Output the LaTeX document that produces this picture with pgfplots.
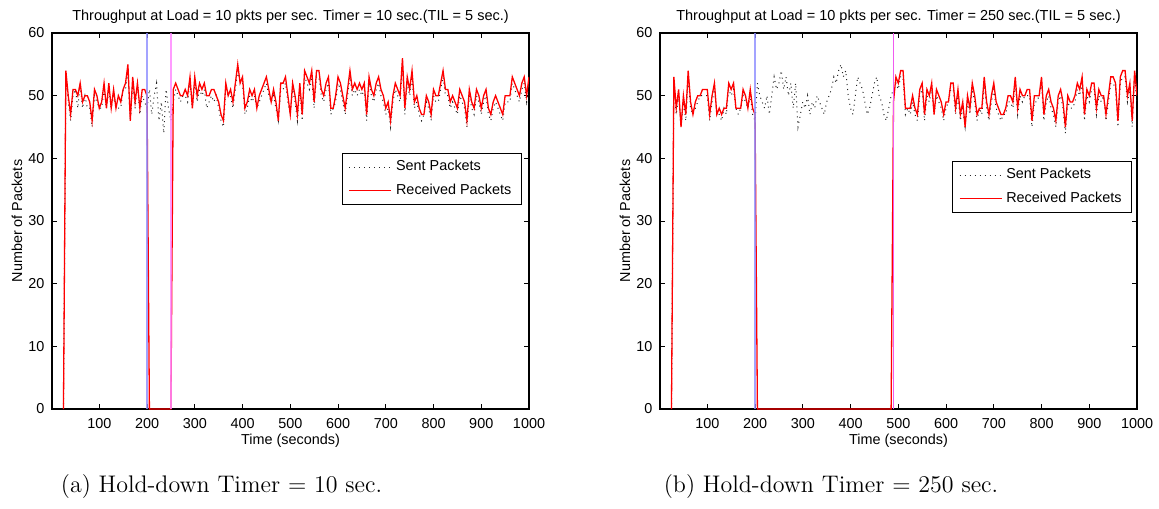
\documentclass[border=0pt]{standalone}
\usepackage{fontspec}
\usepackage{pgfplots}
\usepackage{pgfplotstable}
\pgfplotsset{compat=1.18}
\newfontfamily\plotfont{Liberation Sans}
\definecolor{vblue}{RGB}{140,140,255}
\definecolor{vmag}{RGB}{255,130,255}
\definecolor{vmagb}{RGB}{240,90,240}

\pgfplotstableread{
t r s
25 0 0
30 54 53
35 50 49
40 47 46
45 51 50
50 51 51
55 50 48
60 52 52
65 49 48
70 50 50
75 50 48
80 49 48
85 46 45
90 51 50
95 50 49
100 48 48
105 49 48
110 52 51
115 48 48
120 52 51
125 48 48
130 51 50
135 48 48
140 50 48
145 49 48
150 51 51
155 52 51
160 55 54
165 46 46
170 53 52
175 49 48
180 52 52
185 48 47
190 51 50
195 51 49
200 50 48
205 0 51
210 0 47
215 0 50
220 0 52
225 0 46
230 0 49
235 0 44
240 0 51
245 0 48
250 0 46
255 51 49
260 52 51
265 51 50
270 50 49
275 50 50
280 51 50
285 50 49
290 53 52
295 48 48
300 53 52
305 50 49
310 52 51
315 51 50
320 52 51
325 50 48
330 50 49
335 51 50
340 51 49
345 50 50
350 49 48
355 47 46
360 46 45
365 52 51
370 50 50
375 51 50
380 49 48
385 52 51
390 55 54
395 52 52
400 53 52
405 48 47
410 49 48
415 51 50
420 50 49
425 51 50
430 48 48
435 50 49
440 51 50
445 52 51
450 53 52
455 51 50
460 49 49
465 51 50
470 49 48
475 46 46
480 52 51
485 52 51
490 53 52
495 50 49
500 47 47
505 52 51
510 50 49
515 47 46
520 52 51
525 47 46
530 54 53
535 53 52
540 52 51
545 54 53
550 49 48
555 54 53
560 54 53
565 51 50
570 50 49
575 52 51
580 53 52
585 48 47
590 48 48
595 50 49
600 53 52
605 52 51
610 50 49
615 48 47
620 51 50
625 54 53
630 51 50
635 52 51
640 51 50
645 52 51
650 51 50
655 52 51
660 47 46
665 53 52
670 51 50
675 50 49
680 52 51
685 53 52
690 51 50
695 50 49
700 48 47
705 49 48
710 46 45
715 50 49
720 52 51
725 51 50
730 50 49
735 56 55
740 48 47
745 53 52
750 51 50
755 54 53
760 49 48
765 50 49
770 48 47
775 47 46
780 47 47
785 50 49
790 49 48
795 47 46
800 51 50
805 50 49
810 50 49
815 52 51
820 54 53
825 51 50
830 51 50
835 49 48
840 50 49
845 49 48
850 48 47
855 51 50
860 50 49
865 49 48
870 46 45
875 51 50
880 49 48
885 48 47
890 51 50
895 50 49
900 48 47
905 50 49
910 51 50
915 48 47
920 47 46
925 49 48
930 50 49
935 49 48
940 48 47
945 47 46
950 50 49
955 50 49
960 50 49
965 53 52
970 52 51
975 51 50
980 50 49
985 52 51
990 53 52
995 50 49
1000 53 52
}\dataA

\pgfplotstableread{
t r s
25 0 0
30 53 52
35 48 47
40 51 50
45 45 45
50 50 49
55 47 46
60 54 53
65 49 48
70 47 47
75 49 48
80 50 49
85 50 50
90 51 50
95 51 50
100 51 50
105 47 46
110 50 49
115 52 51
120 47 47
125 48 47
130 47 46
135 48 48
140 48 47
145 52 51
150 51 50
155 52 51
160 48 48
165 48 47
170 48 48
175 51 50
180 50 49
185 48 48
190 51 50
195 48 47
200 47 46
205 0 52
210 0 50
215 0 49
220 0 48
225 0 50
230 0 47
235 0 50
240 0 53
245 0 51
250 0 52
255 0 54
260 0 51
265 0 53
270 0 50
275 0 52
280 0 48
285 0 52
290 0 45
295 0 47
300 0 49
305 0 48
310 0 50
315 0 47
320 0 49
325 0 48
330 0 50
335 0 49
340 0 48
345 0 47
350 0 49
355 0 50
360 0 51
365 0 53
370 0 52
375 0 54
380 0 55
385 0 53
390 0 54
395 0 50
400 0 48
405 0 47
410 0 50
415 0 53
420 0 52
425 0 51
430 0 49
435 0 47
440 0 48
445 0 50
450 0 52
455 0 53
460 0 50
465 0 49
470 0 47
475 0 46
480 0 48
485 0 50
490 49 51
495 53 52
500 52 51
505 54 53
510 54 53
515 48 47
520 48 48
525 48 47
530 50 49
535 48 47
540 47 46
545 51 50
550 52 51
555 47 46
560 51 50
565 50 49
570 52 51
575 47 47
580 51 50
585 50 49
590 49 48
595 47 46
600 49 48
605 49 49
610 52 51
615 52 51
620 48 47
625 51 50
630 47 46
635 49 48
640 45 45
645 50 49
650 48 47
655 52 51
660 50 49
665 47 46
670 48 48
675 48 47
680 53 52
685 49 48
690 47 46
695 50 49
700 52 51
705 49 48
710 48 47
715 47 46
720 47 47
725 48 47
730 50 49
735 50 49
740 49 48
745 53 52
750 48 47
755 51 50
760 50 49
765 50 50
770 51 50
775 51 50
780 46 45
785 50 49
790 50 49
795 50 50
800 53 52
805 47 46
810 50 49
815 51 50
820 49 48
825 48 47
830 46 45
835 50 49
840 51 50
845 49 48
850 45 44
855 50 49
860 49 48
865 49 48
870 50 49
875 52 51
880 51 50
885 53 52
890 47 46
895 51 50
900 50 49
905 52 51
910 52 51
915 48 47
920 51 50
925 50 49
930 50 50
935 47 46
940 50 49
945 53 52
950 53 52
955 52 51
960 46 45
965 53 52
970 54 53
975 54 53
980 50 49
985 52 51
990 46 45
995 54 53
1000 50 49
}\dataB

\pgfplotsset{
  myaxis/.style={
    scale only axis, width=238.5pt, height=188pt,
    xmin=1, xmax=1000, ymin=0, ymax=60,
    xtick={100,200,...,1000}, ytick={0,10,...,60},
    tick align=inside, major tick length=2.5pt,
    axis line style={line width=0.6pt},
    every tick/.style={black, line width=0.5pt},
    /pgf/number format/assume math mode=true,
    /pgf/number format/1000 sep={},
    tick label style={font=\plotfont\fontsize{7.2}{8}\selectfont},
    xticklabel style={yshift=-1.2pt},
    yticklabel style={xshift=-0.3pt},
    every axis title shift=0pt,
    title style={font=\plotfont\fontsize{7.25}{8}\selectfont, at={(axis description cs:0.5,1.0327)}, anchor=base, yshift=0pt},
    xlabel style={font=\plotfont\fontsize{7.2}{8}\selectfont, at={(axis description cs:0.5,-0.0931)}, anchor=base},
    ylabel style={font=\plotfont\fontsize{7.2}{8}\selectfont, at={(axis description cs:-0.0734,0.5)}, anchor=center},
    xlabel={Time (seconds)}, ylabel={Number of Packets},
    legend cell align=left,
    legend style={font=\plotfont\fontsize{7.2}{8.6}\selectfont, draw=black, line width=0.5pt,
      inner xsep=3pt, inner ysep=1.5pt, row sep=1pt, anchor=north east},
    legend image code/.code={\draw[##1] (0pt,0pt) -- (21pt,0pt);},
  },
  sentstyle/.style={black!85, line width=0.5pt, dash pattern=on 0.5pt off 2pt},
  recvstyle/.style={red, line width=0.65pt},
}

\begin{document}
\begin{tikzpicture}
\useasboundingbox (-26pt,-49.5pt) rectangle (553.5pt,204.5pt);
\begin{axis}[myaxis, at={(0pt,0pt)}, anchor=south west,
  title={Throughput at Load = 10 pkts per sec. Timer = 10 sec.(TIL = 5 sec.)},
  legend style={at={(axis description cs:0.985,0.681)}}]
\addplot[sentstyle] table[x=t,y=s] {\dataA};
\addlegendentry{Sent Packets}
\addplot[recvstyle] table[x=t,y=r] {\dataA};
\addlegendentry{Received Packets}
\addplot[vblue, line width=1pt, opacity=0.8, forget plot] coordinates {(200,0) (200,60)};
\addplot[vmag, line width=1pt, opacity=0.8, forget plot] coordinates {(250,0) (250,60)};
\end{axis}
\begin{axis}[myaxis, at={(304pt,0pt)}, anchor=south west,
  title={Throughput at Load = 10 pkts per sec. Timer = 250 sec.(TIL = 5 sec.)},
  legend style={at={(axis description cs:0.9895,0.6596)}}]
\addplot[sentstyle] table[x=t,y=s] {\dataB};
\addlegendentry{Sent Packets}
\addplot[recvstyle] table[x=t,y=r] {\dataB};
\addlegendentry{Received Packets}
\addplot[vblue, line width=1pt, opacity=0.8, forget plot] coordinates {(200,0) (200,60)};
\addplot[vmagb, line width=0.75pt, forget plot] coordinates {(490,0) (490,60)};
\end{axis}
\node[anchor=base, font=\fontsize{12}{14}\selectfont] at (84.75pt,-41.85pt) {(a) Hold-down Timer $=$ 10 sec.};
\node[anchor=base, font=\fontsize{12}{14}\selectfont] at (389.5pt,-41.85pt) {(b) Hold-down Timer $=$ 250 sec.};
\end{tikzpicture}
\end{document}
